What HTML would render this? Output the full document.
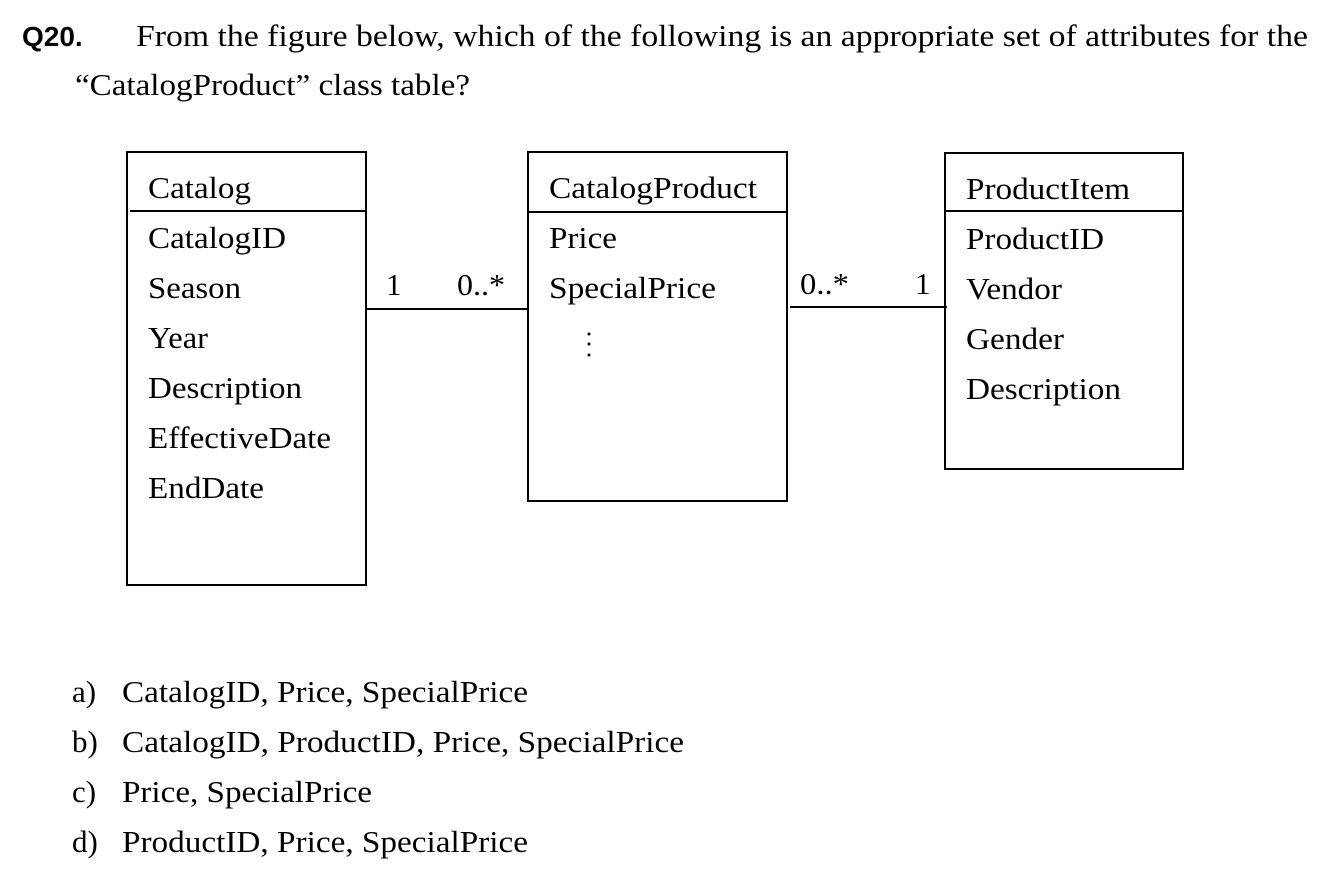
<!DOCTYPE html>
<html><head><meta charset="utf-8"><style>
html,body{margin:0;padding:0;background:#fff;}
body{width:1329px;height:880px;overflow:hidden;}
svg text{font-family:"Liberation Serif","Times New Roman",serif;font-size:31px;fill:#000;}
</style></head><body>
<svg width="1329" height="880" viewBox="0 0 1329 880" xmlns="http://www.w3.org/2000/svg">
<text x="22" y="46" style="font-family:'Liberation Sans',sans-serif;font-weight:bold;font-size:28px">Q20.</text>
<text x="136" y="46" textLength="1172" lengthAdjust="spacingAndGlyphs">From the figure below, which of the following is an appropriate set of attributes for the</text>
<text x="75" y="95" textLength="395" lengthAdjust="spacingAndGlyphs">“CatalogProduct” class table?</text>

<g fill="none" stroke="#000" stroke-width="2">
<rect x="127" y="152" width="239" height="433"/>
<line x1="130" y1="211" x2="366" y2="211"/>
<rect x="528" y="152" width="259" height="349"/>
<line x1="528" y1="212" x2="787" y2="212"/>
<rect x="945" y="153" width="238" height="316"/>
<line x1="945" y1="211" x2="1183" y2="211"/>
<line x1="366" y1="309" x2="528" y2="309"/>
<line x1="790" y1="307" x2="947" y2="307"/>
</g>

<text x="148" y="198" textLength="103" lengthAdjust="spacingAndGlyphs">Catalog</text>
<text x="148" y="248" textLength="138" lengthAdjust="spacingAndGlyphs">CatalogID</text>
<text x="148" y="298" textLength="93" lengthAdjust="spacingAndGlyphs">Season</text>
<text x="148" y="348" textLength="60" lengthAdjust="spacingAndGlyphs">Year</text>
<text x="148" y="398" textLength="154" lengthAdjust="spacingAndGlyphs">Description</text>
<text x="148" y="448" textLength="183" lengthAdjust="spacingAndGlyphs">EffectiveDate</text>
<text x="148" y="498" textLength="116" lengthAdjust="spacingAndGlyphs">EndDate</text>

<text x="549" y="198" textLength="208" lengthAdjust="spacingAndGlyphs">CatalogProduct</text>
<text x="549" y="248" textLength="68" lengthAdjust="spacingAndGlyphs">Price</text>
<text x="549" y="298" textLength="167" lengthAdjust="spacingAndGlyphs">SpecialPrice</text>
<circle cx="589" cy="334" r="1.5"/><circle cx="589" cy="344" r="1.5"/><circle cx="589" cy="355" r="1.5"/>

<text x="966" y="199" textLength="164" lengthAdjust="spacingAndGlyphs">ProductItem</text>
<text x="966" y="249" textLength="138" lengthAdjust="spacingAndGlyphs">ProductID</text>
<text x="966" y="299" textLength="96" lengthAdjust="spacingAndGlyphs">Vendor</text>
<text x="966" y="349" textLength="98" lengthAdjust="spacingAndGlyphs">Gender</text>
<text x="966" y="399" textLength="155" lengthAdjust="spacingAndGlyphs">Description</text>

<text x="386" y="295">1</text>
<text x="457" y="295" textLength="48" lengthAdjust="spacingAndGlyphs">0..*</text>
<text x="800" y="294" textLength="49" lengthAdjust="spacingAndGlyphs">0..*</text>
<text x="915" y="294">1</text>

<text x="72" y="702">a)</text><text x="122" y="702" textLength="406" lengthAdjust="spacingAndGlyphs">CatalogID, Price, SpecialPrice</text>
<text x="72" y="752">b)</text><text x="122" y="752" textLength="562" lengthAdjust="spacingAndGlyphs">CatalogID, ProductID, Price, SpecialPrice</text>
<text x="72" y="802">c)</text><text x="122" y="802" textLength="250" lengthAdjust="spacingAndGlyphs">Price, SpecialPrice</text>
<text x="72" y="852">d)</text><text x="122" y="852" textLength="406" lengthAdjust="spacingAndGlyphs">ProductID, Price, SpecialPrice</text>
</svg>
</body></html>
